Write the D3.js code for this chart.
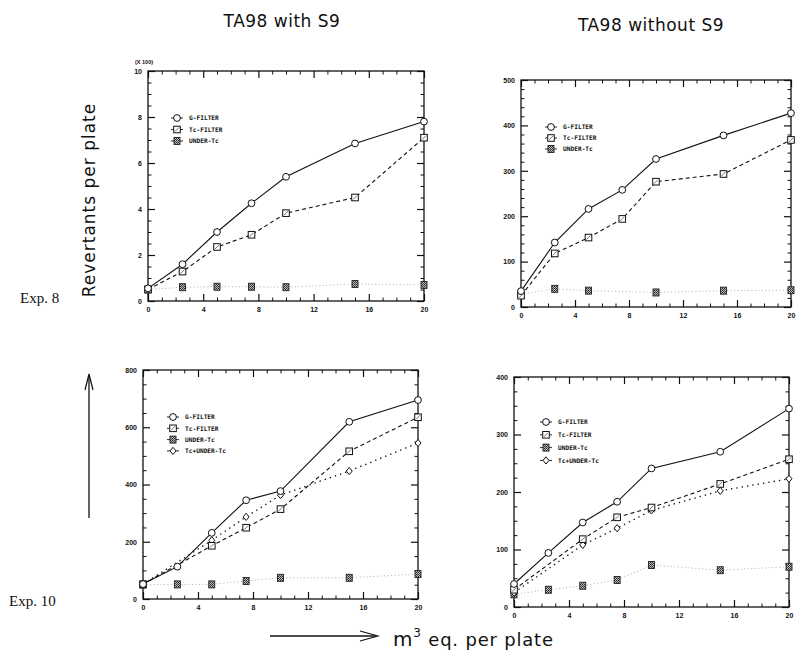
<!DOCTYPE html>
<html>
<head>
<meta charset="utf-8">
<script src="https://cdn.jsdelivr.net/npm/d3@7"></script>
<style>
  body { margin: 0; background: #fff; }
  svg text { fill: #111; }
</style>
</head>
<body>
<svg id="chart" width="797" height="651"></svg>
<script>
// ---- data: revertants per plate vs. m3 air equivalent per plate ----
const xTickValues = [0, 4, 8, 12, 16, 20];
const doseFull = [0, 2.5, 5, 7.5, 10, 15, 20];
const doseNo25 = [0, 5, 7.5, 10, 15, 20];
const doseNo75 = [0, 2.5, 5, 10, 15, 20];

// Exp. 8, TA98 with S9 (values x 100)
const e8s9G = [0.55, 1.6, 3.0, 4.25, 5.4, 6.85, 7.8];
const e8s9Tc = [0.5, 1.28, 2.35, 2.88, 3.82, 4.5, 7.1];
const e8s9Under = [0.5, 0.6, 0.62, 0.62, 0.6, 0.74, 0.7];
const e8s9YTicks = [0, 2, 4, 6, 8, 10];

// Exp. 8, TA98 without S9
const e8G = [35, 142, 216, 258, 326, 378, 427];
const e8Tc = [25, 118, 153, 194, 276, 293, 368];
const e8Under = [28, 40, 36, 32, 36, 37];
const e8YTicks = [0, 100, 200, 300, 400, 500];

// Exp. 10, TA98 with S9
const e10s9G = [52, 113, 231, 345, 377, 619, 695];
const e10s9Tc = [52, 186, 249, 314, 516, 635];
const e10s9Under = [50, 51, 51, 63, 74, 74, 87];
const e10s9TcUnder = [52, 205, 287, 363, 447, 545];
const e10s9YTicks = [0, 200, 400, 600, 800];

// Exp. 10, TA98 without S9
const e10G = [40, 94, 147, 183, 241, 270, 345];
const e10Tc = [30, 118, 156, 173, 214, 257];
const e10Under = [22, 30, 37, 47, 73, 64, 70];
const e10TcUnder = [25, 108, 137, 168, 202, 223];
const e10YTicks = [0, 100, 200, 300, 400];

const seriesNames3 = ["G-FILTER", "Tc-FILTER", "UNDER-Tc"];
const seriesNames4 = ["G-FILTER", "Tc-FILTER", "UNDER-Tc", "Tc+UNDER-Tc"];

// ---- drawing ----
const svg = d3.select("#chart");
const defs = svg.append("defs");
const pat = defs.append("pattern").attr("id", "hatch").attr("width", 2).attr("height", 2)
  .attr("patternUnits", "userSpaceOnUse");
pat.append("rect").attr("width", 2).attr("height", 2).attr("fill", "#bbb");
pat.append("rect").attr("width", 1).attr("height", 1).attr("fill", "#222");
pat.append("rect").attr("x", 1).attr("y", 1).attr("width", 1).attr("height", 1).attr("fill", "#444");

const styles = {
  "G-FILTER":    { dash: null,    color: "#111", width: 1.1, marker: "circle" },
  "Tc-FILTER":   { dash: "4,3",   color: "#111", width: 1.1, marker: "square" },
  "UNDER-Tc":    { dash: "1,2.5", color: "#999", width: 0.8, marker: "hatch" },
  "Tc+UNDER-Tc": { dash: "1.4,4", color: "#111", width: 1.3, marker: "diamond" }
};

function drawMarker(g, kind, cx, cy) {
  if (kind === "circle") {
    g.append("circle").attr("cx", cx).attr("cy", cy).attr("r", 3.4)
      .attr("fill", "#fff").attr("stroke", "#111").attr("stroke-width", 1);
  } else if (kind === "square") {
    g.append("rect").attr("x", cx - 3.3).attr("y", cy - 3.3).attr("width", 6.6).attr("height", 6.6)
      .attr("fill", "#fff").attr("stroke", "#111").attr("stroke-width", 1);
    g.append("line").attr("x1", cx - 2).attr("y1", cy + 2).attr("x2", cx + 2).attr("y2", cy - 2)
      .attr("stroke", "#333").attr("stroke-width", 0.7);
  } else if (kind === "hatch") {
    g.append("rect").attr("x", cx - 3).attr("y", cy - 3.5).attr("width", 6).attr("height", 7)
      .attr("fill", "url(#hatch)").attr("stroke", "#222").attr("stroke-width", 0.9);
  } else if (kind === "diamond") {
    g.append("path").attr("d", `M${cx},${cy - 3.6}L${cx + 3},${cy}L${cx},${cy + 3.6}L${cx - 3},${cy}Z`)
      .attr("fill", "#fff").attr("stroke", "#111").attr("stroke-width", 1);
  }
}

const panels = [
  { left: 148, right: 424, top: 71, bottom: 301, yMax: 10, yTicks: e8s9YTicks, yMinorStep: 0.5,
    legend: { x: 177, y: 118, dy: 11.5 }, names: seriesNames3,
    series: [[doseFull, e8s9G], [doseFull, e8s9Tc], [doseFull, e8s9Under]] },
  { left: 521, right: 791, top: 80, bottom: 307, yMax: 500, yTicks: e8YTicks, yMinorStep: 20,
    legend: { x: 551, y: 127, dy: 11 }, names: seriesNames3,
    series: [[doseFull, e8G], [doseFull, e8Tc], [doseNo75, e8Under]] },
  { left: 143, right: 418, top: 370, bottom: 599, yMax: 800, yTicks: e10s9YTicks, yMinorStep: 50,
    legend: { x: 173, y: 417, dy: 11.3 }, names: seriesNames4,
    series: [[doseFull, e10s9G], [doseNo25, e10s9Tc], [doseFull, e10s9Under], [doseNo25, e10s9TcUnder]] },
  { left: 514, right: 789, top: 377, bottom: 607, yMax: 400, yTicks: e10YTicks, yMinorStep: 25,
    legend: { x: 546, y: 422, dy: 12.8 }, names: seriesNames4,
    series: [[doseFull, e10G], [doseNo25, e10Tc], [doseFull, e10Under], [doseNo25, e10TcUnder]] }
];

panels.forEach(p => {
  const x = d3.scaleLinear().domain([0, 20]).range([p.left, p.right]);
  const y = d3.scaleLinear().domain([0, p.yMax]).range([p.bottom, p.top]);
  const g = svg.append("g");
  const minorY = d3.range(0, p.yMax + 1e-9, p.yMinorStep).filter(v => !p.yTicks.includes(v));
  const minorX = d3.range(0, 21, 1).filter(v => !xTickValues.includes(v));

  const axes = [
    [d3.axisBottom(x), `translate(0,${p.bottom})`, xTickValues, minorX, true],
    [d3.axisTop(x), `translate(0,${p.top})`, xTickValues, minorX, false],
    [d3.axisLeft(y), `translate(${p.left},0)`, p.yTicks, minorY, true],
    [d3.axisRight(y), `translate(${p.right},0)`, p.yTicks, minorY, false]
  ];
  axes.forEach(([mk, tr, major, minor, labelled]) => {
    const maj = g.append("g").attr("transform", tr)
      .call(mk.tickValues(major).tickSize(-7).tickPadding(labelled ? 6 : 0)
        .tickFormat(labelled ? d3.format("d") : () => ""));
    maj.select(".domain").remove();
    maj.selectAll("line").attr("stroke", "#111").attr("stroke-width", 1.2);
    maj.selectAll("text").attr("font-family", "Liberation Sans, Arial, sans-serif")
      .attr("font-size", 7).attr("font-weight", "bold").attr("fill", "#111");
    const mn = g.append("g").attr("transform", tr)
      .call(mk.tickValues(minor).tickSize(-3.5).tickFormat(() => ""));
    mn.select(".domain").remove();
    mn.selectAll("line").attr("stroke", "#111").attr("stroke-width", 1);
  });
  g.append("rect").attr("x", p.left).attr("y", p.top)
    .attr("width", p.right - p.left).attr("height", p.bottom - p.top)
    .attr("fill", "none").attr("stroke", "#111").attr("stroke-width", 1.3);

  const line = d3.line();
  // draw lines under markers: UNDER-Tc first, G last
  const order = p.series.map((s, i) => i).sort((a, b) => (a === 2 ? -1 : b === 2 ? 1 : b - a));
  order.forEach(i => {
    const [xs, ys] = p.series[i];
    const st = styles[p.names[i]];
    g.append("path").attr("d", line(xs.map((v, k) => [x(v), y(ys[k])])))
      .attr("fill", "none").attr("stroke", st.color).attr("stroke-width", st.width)
      .attr("stroke-dasharray", st.dash);
  });
  order.forEach(i => {
    const [xs, ys] = p.series[i];
    const st = styles[p.names[i]];
    xs.forEach((v, k) => drawMarker(g, st.marker, x(v), y(ys[k])));
  });

  // legend
  p.names.forEach((name, i) => {
    const ly = p.legend.y + i * p.legend.dy;
    const st = styles[name];
    g.append("line").attr("x1", p.legend.x - 6).attr("x2", p.legend.x + 6)
      .attr("y1", ly).attr("y2", ly).attr("stroke", "#111").attr("stroke-width", 0.9);
    drawMarker(g, st.marker, p.legend.x, ly);
    g.append("text").attr("x", p.legend.x + 12).attr("y", ly + 2.3)
      .attr("font-family", "DejaVu Sans Mono, monospace").attr("font-size", 6.2)
      .attr("font-weight", "bold").text(name);
  });
});

// scale factor note for the first panel
svg.append("text").attr("x", 135).attr("y", 64)
  .attr("font-family", "Liberation Sans, Arial, sans-serif").attr("font-size", 5.5)
  .attr("font-weight", "bold").text("(X 100)");

// titles
const titleFont = "DejaVu Sans, sans-serif";
svg.append("text").attr("x", 282).attr("y", 27).attr("text-anchor", "middle")
  .attr("font-family", titleFont).attr("font-size", 17).attr("letter-spacing", 0.5)
  .text("TA98 with S9");
svg.append("text").attr("x", 651).attr("y", 31).attr("text-anchor", "middle")
  .attr("font-family", titleFont).attr("font-size", 17).attr("letter-spacing", 0.5)
  .text("TA98 without S9");

// y axis caption and arrow
svg.append("text").attr("transform", "translate(95,200) rotate(-90)").attr("text-anchor", "middle")
  .attr("font-family", titleFont).attr("font-size", 17).attr("letter-spacing", 1)
  .text("Revertants per plate");
svg.append("line").attr("x1", 89).attr("x2", 89).attr("y1", 518).attr("y2", 376)
  .attr("stroke", "#111").attr("stroke-width", 1.3);
svg.append("path").attr("d", "M85,390L89,374L93,390").attr("fill", "none")
  .attr("stroke", "#111").attr("stroke-width", 1.2);

// experiment labels
svg.append("text").attr("x", 20).attr("y", 303).attr("font-family", "Liberation Serif, Times New Roman, serif")
  .attr("font-size", 15).text("Exp. 8");
svg.append("text").attr("x", 9).attr("y", 606).attr("font-family", "Liberation Serif, Times New Roman, serif")
  .attr("font-size", 15).text("Exp. 10");

// x axis caption and arrow
svg.append("line").attr("x1", 270).attr("x2", 376).attr("y1", 636).attr("y2", 636)
  .attr("stroke", "#111").attr("stroke-width", 1.6);
svg.append("path").attr("d", "M360,631L378,636L360,641").attr("fill", "none")
  .attr("stroke", "#111").attr("stroke-width", 1.1);
const cap = svg.append("text").attr("x", 393).attr("y", 646)
  .attr("font-family", titleFont).attr("font-size", 18).attr("letter-spacing", 0.8);
cap.append("tspan").attr("font-size", 20).text("m");
cap.append("tspan").attr("font-size", 12).attr("dy", -9).text("3");
cap.append("tspan").attr("dy", 9).text(" eq. per plate");
</script>
</body>
</html>
